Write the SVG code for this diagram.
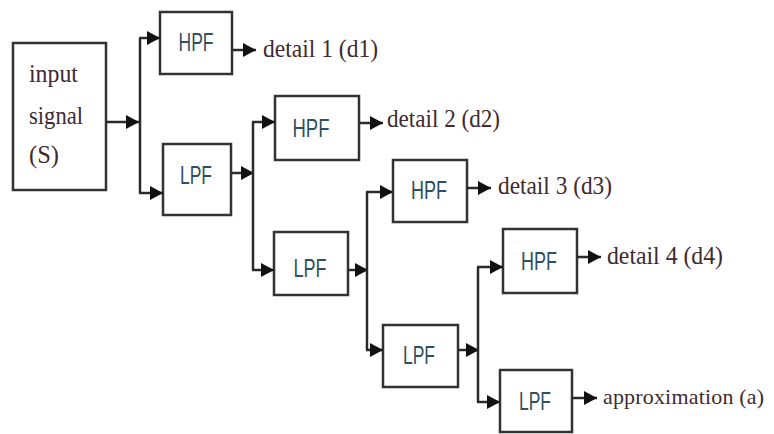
<svg xmlns="http://www.w3.org/2000/svg" width="774" height="434" viewBox="0 0 774 434">
<style>
.box{fill:#fff;stroke:#333;stroke-width:2.5}
.f{font-family:"Liberation Sans",Arial,sans-serif;font-size:25px;fill:#2f5060}
.t{font-family:"Liberation Serif","Times New Roman",serif;font-size:26px;fill:#3f2a2e}
.c{fill:none;stroke:#2a2a2a;stroke-width:2.5}
</style>
<defs>
<marker id="ah" markerUnits="userSpaceOnUse" markerWidth="14" markerHeight="14" refX="13" refY="7" orient="auto">
<path d="M0,0 L13,7 L0,14 z" fill="#111"/>
</marker>
</defs>
<rect width="774" height="434" fill="#fff"/>
<g id="input">
<rect class="box" x="13" y="43" width="93" height="147"/>
<text class="t" x="29" y="82" textLength="49" lengthAdjust="spacingAndGlyphs">input</text>
<text class="t" x="29" y="124" textLength="54" lengthAdjust="spacingAndGlyphs">signal</text>
<text class="t" x="29" y="163" textLength="30" lengthAdjust="spacingAndGlyphs">(S)</text>
</g>
<g id="hpf1">
<rect class="box" x="160" y="12" width="72" height="62"/>
<text class="f" x="196" y="51" text-anchor="middle" textLength="35" lengthAdjust="spacingAndGlyphs">HPF</text>
</g>
<g id="lpf1">
<rect class="box" x="163" y="144" width="68" height="71"/>
<text class="f" x="196" y="184" text-anchor="middle" textLength="32" lengthAdjust="spacingAndGlyphs">LPF</text>
</g>
<g id="hpf2">
<rect class="box" x="275" y="96" width="84" height="64"/>
<text class="f" x="311" y="137" text-anchor="middle" textLength="37" lengthAdjust="spacingAndGlyphs">HPF</text>
</g>
<g id="lpf2">
<rect class="box" x="274" y="232" width="74" height="63"/>
<text class="f" x="310" y="277" text-anchor="middle" textLength="33" lengthAdjust="spacingAndGlyphs">LPF</text>
</g>
<g id="hpf3">
<rect class="box" x="393" y="160" width="74" height="62"/>
<text class="f" x="429" y="199" text-anchor="middle" textLength="36" lengthAdjust="spacingAndGlyphs">HPF</text>
</g>
<g id="lpf3">
<rect class="box" x="383" y="325" width="75" height="62"/>
<text class="f" x="419" y="364" text-anchor="middle" textLength="32" lengthAdjust="spacingAndGlyphs">LPF</text>
</g>
<g id="hpf4">
<rect class="box" x="503" y="229" width="74" height="64"/>
<text class="f" x="539" y="270" text-anchor="middle" textLength="36" lengthAdjust="spacingAndGlyphs">HPF</text>
</g>
<g id="lpf4">
<rect class="box" x="500" y="370" width="72" height="62"/>
<text class="f" x="535" y="410" text-anchor="middle" textLength="32" lengthAdjust="spacingAndGlyphs">LPF</text>
</g>
<g id="labels">
<text class="t" x="263" y="57" textLength="115" lengthAdjust="spacingAndGlyphs">detail 1 (d1)</text>
<text class="t" x="387" y="127" textLength="113" lengthAdjust="spacingAndGlyphs">detail 2 (d2)</text>
<text class="t" x="498" y="194" textLength="114" lengthAdjust="spacingAndGlyphs">detail 3 (d3)</text>
<text class="t" x="607" y="264" textLength="116" lengthAdjust="spacingAndGlyphs">detail 4 (d4)</text>
<text class="t" x="603" y="404" style="font-size:22px" textLength="161" lengthAdjust="spacing">approximation (a)</text>
</g>
<g id="connectors">
<line class="c" x1="106" y1="122" x2="139" y2="122" marker-end="url(#ah)"/>
<line class="c" x1="140" y1="38" x2="140" y2="193"/>
<line class="c" x1="139" y1="38" x2="160" y2="38" marker-end="url(#ah)"/>
<line class="c" x1="139" y1="193" x2="163" y2="193" marker-end="url(#ah)"/>
<line class="c" x1="232" y1="50" x2="256" y2="50" marker-end="url(#ah)"/>
<line class="c" x1="231" y1="173" x2="254" y2="173" marker-end="url(#ah)"/>
<line class="c" x1="253" y1="122" x2="253" y2="270"/>
<line class="c" x1="252" y1="122" x2="275" y2="122" marker-end="url(#ah)"/>
<line class="c" x1="252" y1="270" x2="274" y2="270" marker-end="url(#ah)"/>
<line class="c" x1="359" y1="123" x2="383" y2="123" marker-end="url(#ah)"/>
<line class="c" x1="348" y1="270" x2="368" y2="270" marker-end="url(#ah)"/>
<line class="c" x1="367" y1="192" x2="367" y2="350"/>
<line class="c" x1="366" y1="192" x2="393" y2="192" marker-end="url(#ah)"/>
<line class="c" x1="366" y1="350" x2="383" y2="350" marker-end="url(#ah)"/>
<line class="c" x1="467" y1="188" x2="491" y2="188" marker-end="url(#ah)"/>
<line class="c" x1="458" y1="350" x2="479" y2="350" marker-end="url(#ah)"/>
<line class="c" x1="478" y1="267" x2="478" y2="402"/>
<line class="c" x1="477" y1="267" x2="503" y2="267" marker-end="url(#ah)"/>
<line class="c" x1="477" y1="402" x2="500" y2="402" marker-end="url(#ah)"/>
<line class="c" x1="577" y1="257" x2="601" y2="257" marker-end="url(#ah)"/>
<line class="c" x1="572" y1="398" x2="597" y2="398" marker-end="url(#ah)"/>
</g>
</svg>
